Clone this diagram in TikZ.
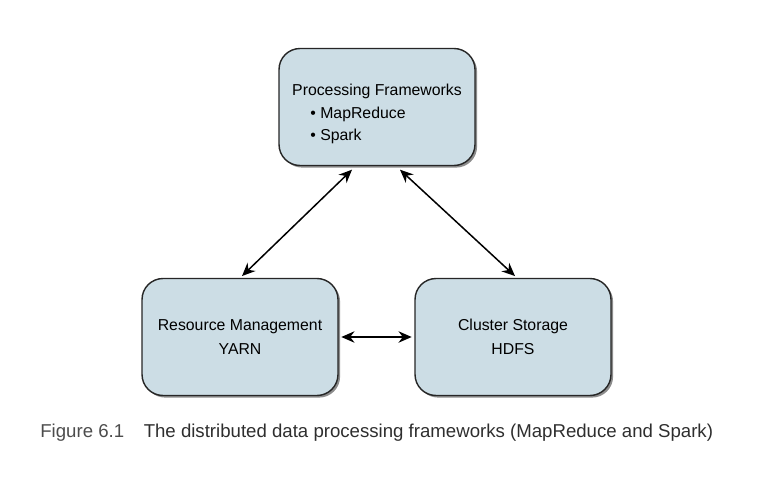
\documentclass[tikz,border=0pt]{standalone}
\usepackage{fontspec}
\setmainfont{Liberation Sans}
\usetikzlibrary{positioning, arrows.meta, shadows}
\definecolor{boxfill}{HTML}{CCDDE5}
\definecolor{captiongray}{HTML}{2E2E2E}

\tikzset{
  layer/.style={draw=black!85, line width=0.8pt, fill=boxfill, rounded corners=0.42cm,
    minimum width=3.92cm, minimum height=2.34cm, font=\fontsize{9}{13.8}\selectfont,
    drop shadow={shadow xshift=1.2pt, shadow yshift=-1.2pt, opacity=0.45, fill=black}},
  link/.style={{Stealth[length=7.5pt,width=6.5pt]}-{Stealth[length=7.5pt,width=6.5pt]}, line width=0.85pt}
}

\begin{document}
\begin{tikzpicture}[x=0.02cm, y=-0.02cm]
  \useasboundingbox (0,0) rectangle (766,486);

  % Boxes
  \node[layer] (proc) at (377,107) {};
  \node[align=left, font=\fontsize{9}{12.7}\selectfont, inner sep=0pt] (proctext) at (377,114)
    {Processing Frameworks\\\hspace*{1.15em}\textbullet\ MapReduce\\\hspace*{1.15em}\textbullet\ Spark};
  \node[layer, align=center] (res) at (240,337) {Resource Management\\YARN};
  \node[layer, align=center] (store) at (513,337) {Cluster Storage\\HDFS};

  % Links
  \draw[link] ([xshift=-0.5cm, yshift=-2pt]proc.south) -- ([xshift=0.04cm, yshift=1pt]res.north);
  \draw[link] ([xshift=0.46cm, yshift=-2pt]proc.south) -- ([xshift=0.04cm, yshift=1pt]store.north);
  \draw[link] ([xshift=1.5pt]res.east) -- ([xshift=-1.5pt]store.west);

  % Caption
  \node[anchor=base west, font=\fontsize{10.6}{12}\selectfont, text=captiongray, inner sep=0pt]
    (caption) at (40,437) {\textcolor{black!70}{Figure 6.1}\hspace{1.05em}The distributed data processing frameworks (MapReduce and Spark)};
\end{tikzpicture}
\end{document}
